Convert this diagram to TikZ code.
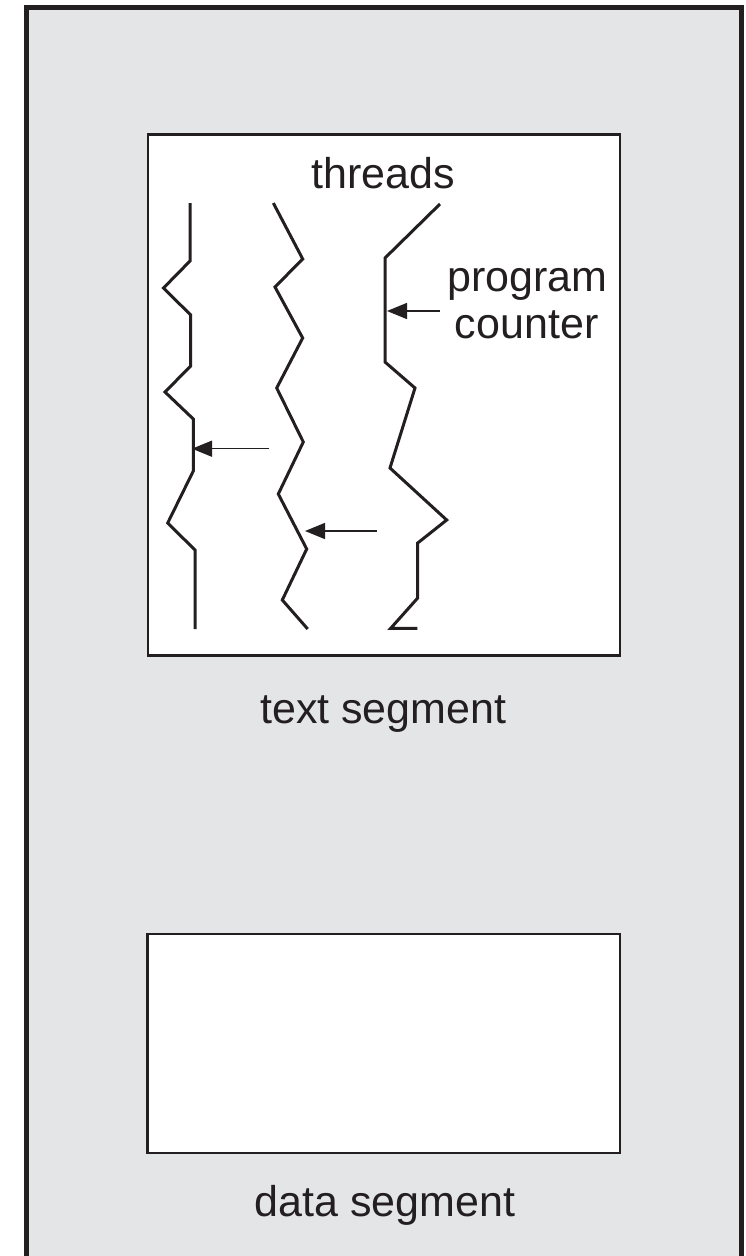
\documentclass[tikz,border=0pt]{standalone}
\usepackage{fontspec}
\setmainfont{Liberation Sans}
\usetikzlibrary{arrows.meta}
\definecolor{ink}{HTML}{231F20}
\definecolor{panel}{HTML}{E4E5E7}
\begin{document}
\begin{tikzpicture}[x=1pt,y=-1pt,
    frame/.style={draw=ink,line width=5pt,fill=panel},
    segbox/.style={draw=ink,line width=2.4pt,fill=white},
    thread/.style={draw=ink,line width=3pt,line join=miter},
    pcarrow/.style={draw=ink,line width=1.4pt,-{Triangle[length=20pt,width=16pt]}},
    lbl/.style={text=ink,font=\fontsize{43}{46}\selectfont,anchor=base,inner sep=0pt}]
\useasboundingbox (0,0) rectangle (746,1256);
% process frame (runs past the lower edge)
\begin{scope}
\clip (0,0) rectangle (746,1256);
\draw[frame] (26.5,7.5) rectangle (741,1290);
\end{scope}
% segments
\draw[segbox] (147.8,134.5) rectangle (619.7,655.5);
\draw[segbox] (147.5,934) rectangle (619.7,1153);
% threads
\draw[thread] (190,203) -- (190,261) -- (163.5,288) -- (190.7,315) -- (190.7,366)
  -- (165,392) -- (193.3,419) -- (193.3,471) -- (167.7,523) -- (195,550) -- (195,629);
\draw[thread] (273.3,203) -- (302.7,259) -- (275,287) -- (302.7,338) -- (276.7,388)
  -- (303.3,442) -- (278.3,494) -- (306.7,549) -- (282.3,600) -- (307.7,629);
\draw[thread] (440,204) -- (385,258) -- (385,362) -- (415,388) -- (390,468)
  -- (446.7,520) -- (417.7,543) -- (417.7,598) -- (390.7,628.3) -- (417.3,628.3);
% program counter pointers
\coordinate (s1) at (269.3,448.7); \coordinate (t1) at (192,448.7);
\coordinate (s2) at (376.7,531);   \coordinate (t2) at (305,531);
\coordinate (s3) at (440,311);     \coordinate (t3) at (387,311);
\draw[pcarrow] (s1) -- (t1);
\draw[pcarrow] (s2) -- (t2);
\draw[pcarrow] (s3) -- (t3);
% labels
\node[lbl] (threads) at (383.3,188) {threads};
\node[lbl] (program) at (527.5,291.7) {program};
\node[lbl] (counter) at (526.7,338) {counter};
\node[lbl] (textseg) at (383.3,723.3) {text segment};
\node[lbl] (dataseg) at (385,1216.7) {data segment};
\end{tikzpicture}
\end{document}
